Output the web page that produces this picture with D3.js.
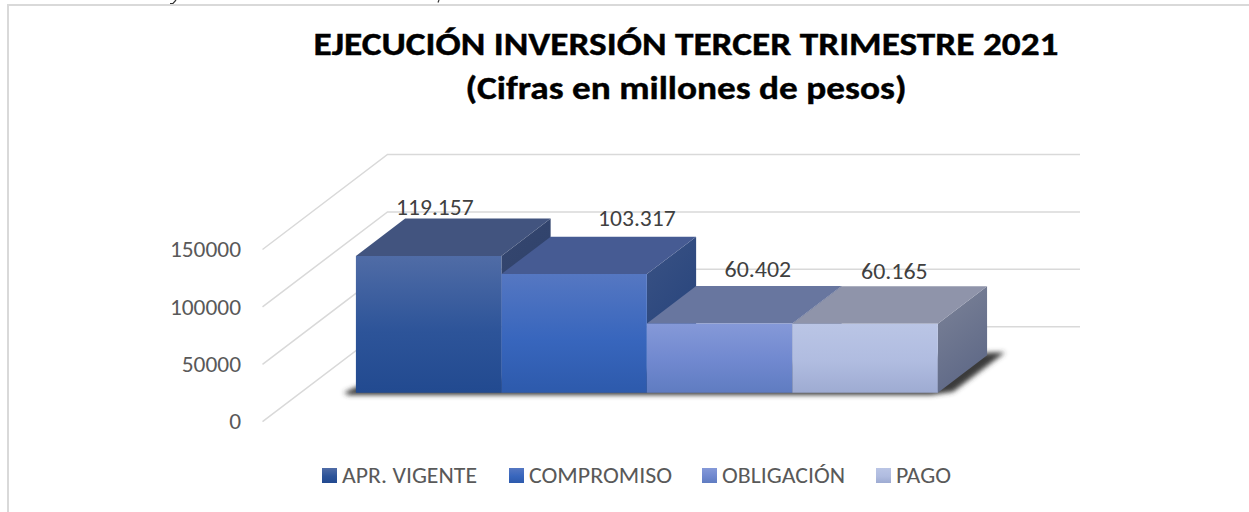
<!DOCTYPE html>
<html>
<head>
<meta charset="utf-8">
<script src="https://cdn.jsdelivr.net/npm/d3@7"></script>
<style>
  html, body { margin: 0; padding: 0; background: #fff; }
  svg { display: block; font-family: Carlito, Lato, "Open Sans", sans-serif; }
</style>
</head>
<body>
<svg id="chart" width="1249" height="512"></svg>
<script>
/* Chart values */
const categories = ["APR. VIGENTE", "COMPROMISO", "OBLIGACIÓN", "PAGO"];
const values = [119157, 103317, 60402, 60165];
const yTicks = [0, 50000, 100000, 150000];
const titleLines = ["EJECUCIÓN INVERSIÓN TERCER TRIMESTRE 2021", "(Cifras en millones de pesos)"];

/* Face colours, one entry per category */
const frontTop = ["#506ca6", "#5577c2", "#8599d8", "#bac5e5"];
const frontMid = ["#2d5499", "#3866bd", "#7088cf", "#b0bce0"];
const frontBottom = ["#224a90", "#2d5aac", "#5f7cc1", "#9eabd2"];
const topColors = ["#42547f", "#465b93", "#68769f", "#8f94aa"];
const sideTop = ["#35466f", "#3a5284", "#5f6d96", "#7c8398"];
const sideBottom = ["#2c4069", "#24427b", "#4f6391", "#5f6987"];

/* Hand placed data labels: shift from the middle of the bar's back top edge */
const labelDx = [-43, 13.5, -11, -20];
const labelDy = [-4, -11, -9, -7];

const svg = d3.select("#chart");
const defs = svg.append("defs");

/* Oblique projection of the 3D box */
const depthX = 125, depthY = 95;
const zFront = 0.305, zBack = 0.699;

const x = d3.scaleBand()
    .domain(categories)
    .range([262.5, 955])
    .paddingInner(0)
    .paddingOuter(0.38);

const y = d3.scaleLinear()
    .domain([0, 150000])
    .range([421.7, 249.5]);

function project(px, value, z) {
    return [px + depthX * z, y(value) - depthY * z];
}

const polygon = d3.line().curve(d3.curveLinearClosed);

const thousands = d3.formatLocale({
    decimal: ",", thousands: ".", grouping: [3], currency: ["", ""]
}).format(",d");

/* Gradients */
categories.forEach(function (c, i) {
    let front = defs.append("linearGradient")
        .attr("id", "front" + i)
        .attr("x1", 0).attr("y1", 0).attr("x2", 0).attr("y2", 1);
    front.append("stop").attr("offset", "0%").attr("stop-color", frontTop[i]);
    front.append("stop").attr("offset", "55%").attr("stop-color", frontMid[i]);
    front.append("stop").attr("offset", "100%").attr("stop-color", frontBottom[i]);

    let side = defs.append("linearGradient")
        .attr("id", "side" + i)
        .attr("x1", 0).attr("y1", 0).attr("x2", 0.4).attr("y2", 1);
    side.append("stop").attr("offset", "0%").attr("stop-color", sideTop[i]);
    side.append("stop").attr("offset", "100%").attr("stop-color", sideBottom[i]);
});

defs.append("filter")
    .attr("id", "soft")
    .attr("x", "-10%").attr("y", "-20%").attr("width", "120%").attr("height", "140%")
    .append("feGaussianBlur")
    .attr("stdDeviation", 2.4);

/* Frame */
svg.append("path")
    .attr("d", "M8,512V5H1249")
    .attr("fill", "none")
    .attr("stroke", "#d9d9d9")
    .attr("stroke-width", 2);

/* Ink left over from the cropped paragraph above the chart */
svg.append("path")
    .attr("d", "M176,0L173,3.5L170,3.5M439,0L438,2.5")
    .attr("fill", "none")
    .attr("stroke", "#333")
    .attr("stroke-width", 1.2);

/* Title */
const titleWidths = [745, 441];
svg.append("g")
    .selectAll("text")
    .data(titleLines)
    .enter().append("text")
    .attr("x", 686)
    .attr("y", (d, i) => 54.5 + i * 44.5)
    .attr("text-anchor", "middle")
    .attr("font-size", 32)
    .attr("font-weight", 700)
    .attr("fill", "#000")
    .attr("stroke", "#000")
    .attr("stroke-width", 0.4)
    .attr("textLength", (d, i) => titleWidths[i])
    .attr("lengthAdjust", "spacingAndGlyphs")
    .text(d => d);

/* Gridlines: floor side then back wall */
const grid = svg.append("g")
    .attr("fill", "none")
    .attr("stroke", "#d9d9d9")
    .attr("stroke-width", 1.5);
grid.selectAll("path")
    .data(yTicks)
    .enter().append("path")
    .attr("d", function (d) {
        return d3.line()([
            project(x.range()[0], d, 0),
            project(x.range()[0], d, 1),
            project(x.range()[1], d, 1)
        ]);
    });

/* Axis labels */
const yAxis = d3.axisLeft(y)
    .tickValues(yTicks)
    .tickFormat(d => d)
    .tickSize(0)
    .tickPadding(22);
const axisG = svg.append("g")
    .attr("transform", "translate(263,0)")
    .call(yAxis);
axisG.select(".domain").remove();
axisG.selectAll("text")
    .attr("font-family", "Carlito, Lato, 'Open Sans', sans-serif")
    .attr("font-size", 22.5)
    .attr("fill", "#595959")
    .attr("textLength", d => String(d).length * 11.85)
    .attr("lengthAdjust", "spacingAndGlyphs");

/* Floor shadow, under the whole row of bars */
const firstX = x(categories[0]);
const lastX = x(categories[categories.length - 1]) + x.bandwidth();
svg.append("path")
    .attr("fill", "#3a3a3a")
    .attr("filter", "url(#soft)")
    .attr("d", polygon([
        project(firstX - 12, 0, zFront),
        project(firstX - 6, 0, zFront + 0.07),
        project(lastX + 2, 0, zBack + 0.03),
        project(lastX + 14, 0, zBack + 0.03),
        project(lastX + 14, 0, zFront + 0.01),
        project(lastX - 4, 0, zFront - 0.025),
        project(firstX - 4, 0, zFront - 0.025)
    ]));

/* Bars, left to right so each one covers the side of the one before */
const bars = svg.append("g")
    .selectAll("g")
    .data(categories)
    .enter().append("g");

bars.append("path")
    .attr("fill", (d, i) => "url(#side" + i + ")")
    .attr("d", function (d, i) {
        let r = x(d) + x.bandwidth();
        return polygon([
            project(r, 0, zFront), project(r, values[i], zFront),
            project(r, values[i], zBack), project(r, 0, zBack)
        ]);
    });

bars.append("path")
    .attr("fill", (d, i) => topColors[i])
    .attr("d", function (d, i) {
        let l = x(d), r = l + x.bandwidth();
        return polygon([
            project(l, values[i], zFront), project(r, values[i], zFront),
            project(r, values[i], zBack), project(l, values[i], zBack)
        ]);
    });

bars.append("path")
    .attr("fill", (d, i) => "url(#front" + i + ")")
    .attr("d", function (d, i) {
        let l = x(d), r = l + x.bandwidth();
        return polygon([
            project(l, 0, zFront), project(r, 0, zFront),
            project(r, values[i], zFront), project(l, values[i], zFront)
        ]);
    });

/* Data labels */
svg.append("g")
    .selectAll("text")
    .data(categories)
    .enter().append("text")
    .attr("x", (d, i) => project(x(d) + x.bandwidth() / 2, values[i], zBack)[0] + labelDx[i])
    .attr("y", (d, i) => project(x(d), values[i], zBack)[1] + labelDy[i])
    .attr("text-anchor", "middle")
    .attr("font-size", 23)
    .attr("fill", "#404040")
    .attr("textLength", (d, i) => thousands(values[i]).length * 11.1)
    .attr("lengthAdjust", "spacingAndGlyphs")
    .text((d, i) => thousands(values[i]));

/* Legend */
const legendX = [322, 509, 702, 876];
const legendWidths = [135, 143, 123, 55];
const legend = svg.append("g")
    .selectAll("g")
    .data(categories)
    .enter().append("g")
    .attr("transform", (d, i) => "translate(" + legendX[i] + ",468)");
legend.append("rect")
    .attr("width", 15)
    .attr("height", 15)
    .attr("fill", (d, i) => "url(#front" + i + ")");
legend.append("text")
    .attr("x", 20)
    .attr("y", 15)
    .attr("font-size", 22)
    .attr("fill", "#595959")
    .attr("textLength", (d, i) => legendWidths[i])
    .attr("lengthAdjust", "spacingAndGlyphs")
    .text(d => d);
</script>
</body>
</html>
